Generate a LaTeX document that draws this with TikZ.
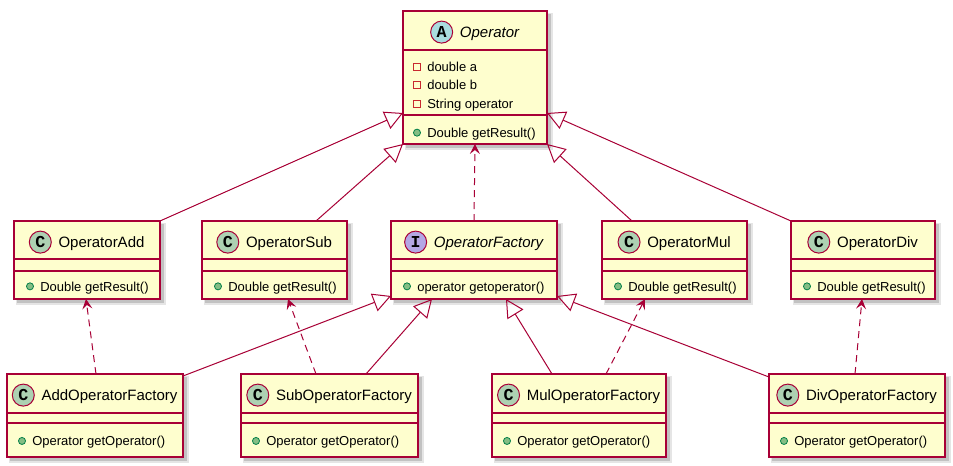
\documentclass[tikz,border=0pt]{standalone}
\usepackage{fontspec}
\setmainfont{Liberation Sans}
\newfontfamily\circfont{Liberation Mono}
\usetikzlibrary{arrows.meta,calc}
\definecolor{umlborder}{HTML}{A80036}
\definecolor{umlfill}{HTML}{FEFECE}
\definecolor{classcirc}{HTML}{ADD1B2}
\definecolor{abstcirc}{HTML}{A9DCDF}
\definecolor{intfcirc}{HTML}{B4A7E5}
\definecolor{pubfill}{HTML}{84BE84}
\definecolor{pubdraw}{HTML}{038048}
\definecolor{privdraw}{HTML}{C82930}
\tikzset{
  classbox/.style={rectangle, draw=umlborder, fill=umlfill, line width=1.125pt, inner sep=0pt, outer sep=0pt, anchor=north west},
  sepline/.style={draw=umlborder, line width=1.125pt},
  titletext/.style={inner sep=0pt, anchor=base, font=\fontsize{11.25}{13}\selectfont},
  circ/.style={circle, draw=umlborder, line width=0.75pt, minimum size=16.5pt, inner sep=0pt, font=\circfont\bfseries\fontsize{12.5}{12.5}\selectfont},
  memtext/.style={inner sep=0pt, anchor=base west, font=\fontsize{9.75}{12}\selectfont},
  pubicon/.style={circle, draw=pubdraw, fill=pubfill, line width=0.6pt, minimum size=5.3pt, inner sep=0pt},
  privicon/.style={rectangle, draw=privdraw, line width=0.6pt, minimum size=5.3pt, inner sep=0pt},
  inh/.style={draw=umlborder, line width=0.75pt, -{Triangle[open, length=13.5pt, width=14pt, line width=0.75pt]}},
  dep/.style={draw=umlborder, line width=0.75pt, dash pattern=on 5.25pt off 3.75pt, -{Stealth[length=7.5pt, width=7.5pt, inset=3pt]}},
}
\newcommand{\umlbox}[7]{%
  \pgfmathsetmacro\bw{(#4-#2)*0.75}%
  \pgfmathsetmacro\bh{(#5-#3)*0.75}%
  \fill[black, opacity=0.10] (#2+2,#3+2) rectangle (#4+5.5,#5+5.5);
  \fill[black, opacity=0.15] (#2+3,#3+3) rectangle (#4+4,#5+4);
  \node[classbox, minimum width=\bw pt, minimum height=\bh pt] (#1) at (#2,#3) {};
  \draw[sepline] (#2,#6) -- (#4,#6);
  \draw[sepline] (#2,#7) -- (#4,#7);
}
% #1 box, #2 letter, #3 circle colour, #4 name text
\newcommand{\umltitle}[4]{%
  \node[titletext] (#1T) at ($(#1.north)+(14.5,26.5)$) {#4};
  \node[circ, fill=#3] (#1C) at ($(#1T.base west)+(-18,-5.4)$) {#2};
}
% #1 node name, #2 box, #3 text dx, #4 baseline dy, #5 icon style, #6 text
\newcommand{\umlmember}[6]{%
  \node[memtext] (#1) at ($(#2.north west)+(#3,#4)$) {#6};
  \node[#5] (#1I) at ($(#2.north west)+(#3-10,#4-4.65)$) {};
}
\begin{document}
\begin{tikzpicture}[x=0.75pt, y=-0.75pt]
\fill[white] (0,0) rectangle (953,465);
\useasboundingbox (0,0) rectangle (953,465);

% boxes
\umlbox{op}{403}{11}{547}{144}{50}{115}
\umlbox{add}{14}{221}{160}{299}{259}{271}
\umlbox{sub}{202}{221}{347}{299}{259}{271}
\umlbox{fac}{391}{221}{557}{299}{259}{271}
\umlbox{mul}{602}{221}{747}{299}{259}{271}
\umlbox{div}{791}{221}{935}{299}{259}{271}
\umlbox{addF}{7}{374}{183}{457}{413}{423}
\umlbox{subF}{241}{374}{418}{457}{413}{423}
\umlbox{mulF}{492}{374}{666}{457}{413}{423}
\umlbox{divF}{769}{374}{945}{457}{413}{423}

% titles
\umltitle{op}{A}{abstcirc}{\itshape Operator}
\umltitle{add}{C}{classcirc}{OperatorAdd}
\umltitle{sub}{C}{classcirc}{OperatorSub}
\umltitle{fac}{I}{intfcirc}{\itshape OperatorFactory}
\umltitle{mul}{C}{classcirc}{OperatorMul}
\umltitle{div}{C}{classcirc}{OperatorDiv}
\umltitle{addF}{C}{classcirc}{AddOperatorFactory}
\umltitle{subF}{C}{classcirc}{SubOperatorFactory}
\umltitle{mulF}{C}{classcirc}{MulOperatorFactory}
\umltitle{divF}{C}{classcirc}{DivOperatorFactory}

% members
\umlmember{opa}{op}{24}{60.3}{privicon}{double a}
\umlmember{opb}{op}{24}{78.7}{privicon}{double b}
\umlmember{opc}{op}{24}{97.7}{privicon}{String operator}
\umlmember{opm}{op}{24}{126.3}{pubicon}{Double getResult()}
\umlmember{addm}{add}{26}{70}{pubicon}{Double getResult()}
\umlmember{subm}{sub}{26}{70}{pubicon}{Double getResult()}
\umlmember{facm}{fac}{26}{70}{pubicon}{operator getoperator()}
\umlmember{mulm}{mul}{26}{70}{pubicon}{Double getResult()}
\umlmember{divm}{div}{26}{70}{pubicon}{Double getResult()}
\umlmember{addFm}{addF}{25}{71.6}{pubicon}{Operator getOperator()}
\umlmember{subFm}{subF}{25}{71.6}{pubicon}{Operator getOperator()}
\umlmember{mulFm}{mulF}{25}{71.6}{pubicon}{Operator getOperator()}
\umlmember{divFm}{divF}{25}{71.6}{pubicon}{Operator getOperator()}

% inheritance to Operator
\draw[inh] (add.north east) -- ($(op.north west)+(0,102)$);
\draw[inh] ($(sub.north west)+(114,0)$) -- (op.south west);
\draw[inh] ($(mul.north west)+(30,0)$) -- (op.south east);
\draw[inh] (div.north west) -- ($(op.north east)+(0,102)$);
% dependency factory -> Operator
\draw[dep] (fac.north) -- (op.south);
% dependencies factories -> products
\draw[dep] ($(addF.north west)+(89,0)$) -- ($(add.south west)+(72,0)$);
\draw[dep] ($(subF.north west)+(75,0)$) -- ($(sub.south west)+(86,0)$);
\draw[dep] ($(mulF.north west)+(114,0)$) -- ($(mul.south west)+(43,0)$);
\draw[dep] ($(divF.north west)+(86,0)$) -- ($(div.south west)+(71,0)$);
% realisation of OperatorFactory
\draw[inh] ($(addF.north east)+(0,2)$) -- ($(fac.south west)+(0,-3)$);
\draw[inh] ($(subF.north west)+(125,0)$) -- ($(fac.south west)+(41,0)$);
\draw[inh] ($(mulF.north west)+(60,0)$) -- ($(fac.south west)+(115,0)$);
\draw[inh] ($(divF.north west)+(0,3)$) -- ($(fac.south east)+(0,-3)$);
\end{tikzpicture}
\end{document}
